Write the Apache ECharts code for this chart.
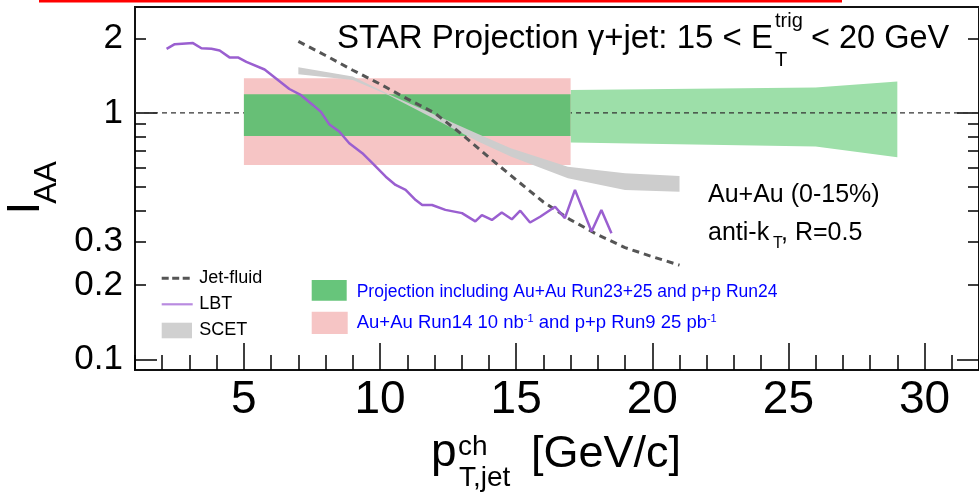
<!DOCTYPE html>
<html>
<head>
<meta charset="utf-8">
<script src="https://cdn.jsdelivr.net/npm/echarts@6/dist/echarts.min.js"></script>
<style>
html, body { margin: 0; padding: 0; background: #fff; }
#IaaChart { width: 979px; height: 503px; }
</style>
</head>
<body>
<div id="IaaChart"></div>
<script>
// --- data ---
const xLabels = [5, 10, 15, 20, 25, 30];
const yLabels = [0.1, 0.2, 0.3, 1, 2];

// Jet-fluid (dashed)
const jetFluidX = [7, 8, 9, 10, 11, 12, 13, 14, 15, 16, 17, 18, 19, 20, 21];
const jetFluidY = [1.95, 1.71, 1.49, 1.31, 1.14, 1.0, 0.82, 0.66, 0.535, 0.435, 0.368, 0.32, 0.284, 0.261, 0.241];

// LBT (purple)
const lbtX = [2.16, 2.46, 3.13, 3.44, 3.81, 4.11, 4.47, 4.78, 5.09, 5.76, 6.18, 6.67, 7.10, 7.52, 7.83, 8.13, 8.50, 8.87, 9.35, 9.72, 10.21,
  10.57, 10.94, 11.31, 11.55, 11.91, 12.40, 13.01, 13.50, 13.74, 14.11, 14.47, 14.84, 15.15, 15.51, 15.88, 16.43, 16.79, 17.16, 17.77, 18.13, 18.50];
const lbtY = [1.82, 1.90, 1.92, 1.83, 1.82, 1.79, 1.68, 1.68, 1.61, 1.50, 1.38, 1.25, 1.18, 1.08, 1.01, 0.90, 0.84, 0.753, 0.686, 0.625, 0.551,
  0.51, 0.487, 0.443, 0.423, 0.423, 0.404, 0.392, 0.363, 0.385, 0.368, 0.394, 0.370, 0.401, 0.359, 0.379, 0.416, 0.374, 0.487, 0.330, 0.404, 0.325];

// SCET (gray band)
const scetX = [7, 9, 10.3, 13.6, 14.8, 16.9, 19, 21];
const scetLow = [1.436, 1.361, 1.183, 0.765, 0.665, 0.543, 0.487, 0.479];
const scetHigh = [1.533, 1.404, 1.194, 0.822, 0.719, 0.605, 0.569, 0.555];

// Projection including Au+Au Run23+25 and p+p Run24 (dark green)
const projX = [5, 17];
const projLow = [0.806, 0.806];
const projHigh = [1.19, 1.19];

// Au+Au Run14 / p+p Run9 (pink)
const run14X = [5, 17];
const run14Low = [0.615, 0.615];
const run14High = [1.383, 1.383];

// projection extension to high pT (light green)
const projExtX = [17, 26, 29];
const projExtLow = [0.758, 0.73, 0.661];
const projExtHigh = [1.24, 1.267, 1.34];

// unity reference
const unityX = [1, 32];
const unityY = [1, 1];

const FONT = "'Liberation Sans', Arial, sans-serif";
const zip = (xs, ys) => xs.map((x, i) => [x, ys[i]]);

function bandSeries(name, xs, lows, highs, color, z, opacity) {
  const data = xs.map((x, i) => [x, lows[i], highs[i]]);
  return {
    type: 'custom',
    name: name,
    z: z,
    silent: true,
    data: data,
    encode: { x: 0, y: [1, 2] },
    renderItem: function (params, api) {
      if (params.dataIndex !== 0) return;
      const top = data.map(d => api.coord([d[0], d[2]]));
      const bot = data.map(d => api.coord([d[0], d[1]])).reverse();
      return {
        type: 'polygon',
        shape: { points: top.concat(bot) },
        style: { fill: color, opacity: opacity === undefined ? 1 : opacity }
      };
    }
  };
}

const yMin = 0.0905, yMax = 2.69;
function yAxisDef(position, ticks, len, labels) {
  return {
    type: 'log',
    position: position,
    min: yMin,
    max: yMax,
    axisLine: { show: false },
    splitLine: { show: false },
    axisTick: { show: true, inside: true, length: len, customValues: ticks, lineStyle: { color: '#000', width: 1.5 } },
    axisLabel: labels ? {
      show: true, customValues: labels, fontSize: 35, fontFamily: FONT, color: '#000', margin: 12,
      formatter: v => String(+(+v).toPrecision(3))
    } : { show: false }
  };
}

var chartDom = document.getElementById('IaaChart');
var myChart = echarts.init(chartDom);

const option = {
  animation: false,
  backgroundColor: '#fff',
  grid: {
    left: 135, top: 7, right: -3, bottom: 133,
    show: true, borderColor: '#111', borderWidth: 2, backgroundColor: 'transparent'
  },
  xAxis: [
    {
      type: 'value', min: 1, max: 32, position: 'bottom',
      axisLine: { show: false },
      splitLine: { show: false },
      axisTick: { show: true, inside: true, length: 27, customValues: xLabels, lineStyle: { color: '#000', width: 1.5 } },
      axisLabel: { show: true, customValues: xLabels, fontSize: 46, fontFamily: FONT, color: '#000', margin: 7 }
    },
    {
      type: 'value', min: 1, max: 32, interval: 1, position: 'bottom',
      axisLine: { show: false },
      splitLine: { show: false },
      axisTick: { show: true, inside: true, length: 15, lineStyle: { color: '#000', width: 1.5 } },
      axisLabel: { show: false }
    }
  ],
  yAxis: [
    yAxisDef('left', [0.1, 1], 22, yLabels),
    yAxisDef('left', [0.2, 0.3, 0.4, 0.5, 0.6, 0.7, 0.8, 0.9, 2], 11, null),
    yAxisDef('right', [0.1, 1], 22, null),
    yAxisDef('right', [0.2, 0.3, 0.4, 0.5, 0.6, 0.7, 0.8, 0.9, 2], 11, null)
  ],
  series: [
    bandSeries('Projection ext', projExtX, projExtLow, projExtHigh, '#9ddfa9', 1),
    {
      type: 'line', name: 'unity', z: 2, symbol: 'none', silent: true,
      data: zip(unityX, unityY),
      lineStyle: { color: '#333', width: 1.2, type: [5, 4] }
    },
    bandSeries('Au+Au Run14', run14X, run14Low, run14High, '#f6c5c5', 3),
    bandSeries('Projection', projX, projLow, projHigh, '#58be6d', 4, 0.9),
    bandSeries('SCET', scetX, scetLow, scetHigh, '#cdcdcd', 5),
    {
      type: 'line', name: 'Jet-fluid', z: 6, symbol: 'none', silent: true,
      data: zip(jetFluidX, jetFluidY),
      lineStyle: { color: '#555', width: 3, type: [7, 5] }
    },
    {
      type: 'line', name: 'LBT', z: 7, symbol: 'none', silent: true,
      data: zip(lbtX, lbtY),
      lineStyle: { color: '#9a5fd0', width: 2.5 }
    }
  ],
  graphic: [
    // red slide border remnant at the very top
    { type: 'rect', z: 100, shape: { x: 39, y: 0, width: 803, height: 2.5 }, style: { fill: '#ff0000' } },

    // title
    { type: 'text', z: 100, x: 773, y: 39, style: { text: 'STAR Projection \u03b3+jet: 15 < E', fontSize: 33, fontFamily: FONT, fill: '#000', textAlign: 'right', textVerticalAlign: 'middle' } },
    { type: 'text', z: 100, x: 775, y: 21, style: { text: 'trig', fontSize: 20, fontFamily: FONT, fill: '#000', textAlign: 'left', textVerticalAlign: 'middle' } },
    { type: 'text', z: 100, x: 775, y: 60, style: { text: 'T', fontSize: 20, fontFamily: FONT, fill: '#000', textAlign: 'left', textVerticalAlign: 'middle' } },
    { type: 'text', z: 100, x: 811, y: 39, style: { text: '< 20 GeV', fontSize: 32.5, fontFamily: FONT, fill: '#000', textAlign: 'left', textVerticalAlign: 'middle' } },

    // system labels
    { type: 'text', z: 100, x: 708, y: 195, style: { text: 'Au+Au (0-15%)', fontSize: 25, fontFamily: FONT, fill: '#000', textAlign: 'left', textVerticalAlign: 'middle' } },
    { type: 'text', z: 100, x: 708, y: 233.5, style: { text: 'anti-k', fontSize: 25, fontFamily: FONT, fill: '#000', textAlign: 'left', textVerticalAlign: 'middle' } },
    { type: 'text', z: 100, x: 773, y: 243.5, style: { text: 'T', fontSize: 16, fontFamily: FONT, fill: '#000', textAlign: 'left', textVerticalAlign: 'middle' } },
    { type: 'text', z: 100, x: 781, y: 233.5, style: { text: ', R=0.5', fontSize: 25, fontFamily: FONT, fill: '#000', textAlign: 'left', textVerticalAlign: 'middle' } },

    // model legend
    { type: 'line', z: 100, shape: { x1: 161.7, y1: 278.3, x2: 190, y2: 278.3 }, style: { stroke: '#555', lineWidth: 3, lineDash: [7, 3.5] } },
    { type: 'text', z: 100, x: 199.3, y: 278.3, style: { text: 'Jet-fluid', fontSize: 18, fontFamily: FONT, fill: '#000', textAlign: 'left', textVerticalAlign: 'middle' } },
    { type: 'line', z: 100, shape: { x1: 161.7, y1: 304.3, x2: 192.7, y2: 304.3 }, style: { stroke: '#b98be0', lineWidth: 2.2 } },
    { type: 'text', z: 100, x: 199.3, y: 304.2, style: { text: 'LBT', fontSize: 18, fontFamily: FONT, fill: '#000', textAlign: 'left', textVerticalAlign: 'middle' } },
    { type: 'rect', z: 100, shape: { x: 161.7, y: 322.7, width: 30.3, height: 15.6 }, style: { fill: '#d0d0d0' } },
    { type: 'text', z: 100, x: 199.3, y: 329.7, style: { text: 'SCET', fontSize: 18, fontFamily: FONT, fill: '#000', textAlign: 'left', textVerticalAlign: 'middle' } },

    // projection legend
    { type: 'rect', z: 100, shape: { x: 311.7, y: 280, width: 35, height: 20.7 }, style: { fill: '#67c57b' } },
    { type: 'text', z: 100, x: 356.7, y: 292.5, style: { text: 'Projection including Au+Au Run23+25 and p+p Run24', fontSize: 17.5, fontFamily: FONT, fill: '#0000ff', textAlign: 'left', textVerticalAlign: 'middle' } },
    { type: 'rect', z: 100, shape: { x: 311.7, y: 311.7, width: 36, height: 22.3 }, style: { fill: '#f6c5c5' } },
    {
      type: 'text', z: 100, x: 356.7, y: 323.3,
      style: {
        text: '{m|Au+Au Run14 10 nb}{s|-1}{m| and p+p Run9 25 pb}{s|-1}',
        textAlign: 'left', textVerticalAlign: 'middle',
        rich: {
          m: { fontSize: 18.5, fontFamily: FONT, fill: '#0000ff' },
          s: { fontSize: 11, fontFamily: FONT, fill: '#0000ff', verticalAlign: 'top' }
        }
      }
    },

    // y axis title I_AA
    { type: 'text', z: 100, x: 26.5, y: 208, rotation: Math.PI / 2, style: { text: 'I', fontSize: 46, fontFamily: FONT, fill: '#000', textAlign: 'center', textVerticalAlign: 'middle' } },
    { type: 'text', z: 100, x: 47, y: 182.5, rotation: Math.PI / 2, style: { text: 'AA', fontSize: 32, fontFamily: FONT, fill: '#000', textAlign: 'center', textVerticalAlign: 'middle' } },

    // x axis title p_T,jet^ch [GeV/c]
    { type: 'text', z: 100, x: 431, y: 453, style: { text: 'p', fontSize: 46, fontFamily: FONT, fill: '#000', textAlign: 'left', textVerticalAlign: 'middle' } },
    { type: 'text', z: 100, x: 458, y: 447, style: { text: 'ch', fontSize: 28, fontFamily: FONT, fill: '#000', textAlign: 'left', textVerticalAlign: 'middle' } },
    { type: 'text', z: 100, x: 459, y: 478.5, style: { text: 'T,jet', fontSize: 28, fontFamily: FONT, fill: '#000', textAlign: 'left', textVerticalAlign: 'middle' } },
    { type: 'text', z: 100, x: 531, y: 455, style: { text: '[GeV/c]', fontSize: 45, fontFamily: FONT, fill: '#000', textAlign: 'left', textVerticalAlign: 'middle' } }
  ]
};

myChart.setOption(option);
</script>
</body>
</html>
